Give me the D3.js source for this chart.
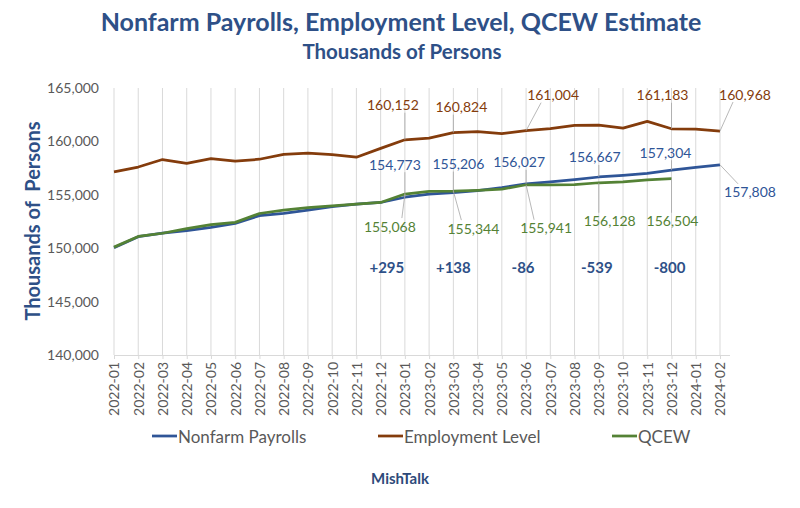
<!DOCTYPE html>
<html>
<head>
<meta charset="utf-8">
<script src="https://cdn.jsdelivr.net/npm/d3@7.9.0/dist/d3.min.js"></script>
<style>
  body { margin: 0; background: #fff; }
  svg { display: block; font-family: Lato, "Open Sans", sans-serif; }
</style>
</head>
<body>
<div id="chart"></div>
<script>
// Monthly levels, thousands of persons
const months = [
  "2022-01","2022-02","2022-03","2022-04","2022-05","2022-06","2022-07","2022-08","2022-09","2022-10","2022-11","2022-12",
  "2023-01","2023-02","2023-03","2023-04","2023-05","2023-06","2023-07","2023-08","2023-09","2023-10","2023-11","2023-12",
  "2024-01","2024-02"
];
const nonfarm = [
  150050, 151080, 151420, 151640, 151950, 152330, 153050, 153260, 153560, 153900, 154130, 154280,
  154773, 155060, 155206, 155400, 155680, 156027, 156200, 156410, 156667, 156830, 157010, 157304,
  157560, 157808
];
const employment = [
  157150, 157600, 158300, 157950, 158380, 158150, 158330, 158780, 158900, 158760, 158520, 159350,
  160152, 160300, 160824, 160920, 160730, 161004, 161200, 161500, 161520, 161240, 161880, 161183,
  161152, 160968
];
const qcew = [
  150100, 151100, 151400, 151830, 152200, 152420, 153250, 153560, 153800, 153970, 154120, 154280,
  155068, 155320, 155344, 155420, 155530, 155941, 155930, 155950, 156128, 156210, 156400, 156504
];
const yTicks = [140000, 145000, 150000, 155000, 160000, 165000];
const diffMonths = ["2023-01", "2023-03", "2023-06", "2023-09", "2023-12"];

// which points get a value label, and where the label sits relative to its point
const labelLayout = [
  { key: "employment", month: "2023-01", dx: -12, dy: -35 },
  { key: "employment", month: "2023-03", dx: 8, dy: -26 },
  { key: "employment", month: "2023-06", dx: 27, dy: -36 },
  { key: "employment", month: "2023-12", dx: -9, dy: -34 },
  { key: "employment", month: "2024-02", dx: 25, dy: -37 },
  { key: "nonfarm", month: "2023-01", dx: -10, dy: -33 },
  { key: "nonfarm", month: "2023-03", dx: 5, dy: -29 },
  { key: "nonfarm", month: "2023-06", dx: -7, dy: -22 },
  { key: "nonfarm", month: "2023-09", dx: -4, dy: -20 },
  { key: "nonfarm", month: "2023-12", dx: -6, dy: -18 },
  { key: "nonfarm", month: "2024-02", dx: 30, dy: 27 },
  { key: "qcew", month: "2023-01", dx: -15, dy: 32 },
  { key: "qcew", month: "2023-03", dx: 20, dy: 37 },
  { key: "qcew", month: "2023-06", dx: 20, dy: 43 },
  { key: "qcew", month: "2023-09", dx: 11, dy: 38 },
  { key: "qcew", month: "2023-12", dx: 1, dy: 42 }
];
// horizontal nudge of the difference annotations
const diffNudge = [-18, 0, -3, -2, -2];

const series = [
  { key: "nonfarm", name: "Nonfarm Payrolls", values: nonfarm, color: "#2F5597" },
  { key: "employment", name: "Employment Level", values: employment, color: "#843C0C" },
  { key: "qcew", name: "QCEW", values: qcew, color: "#548235" }
];
const byKey = Object.fromEntries(series.map(s => [s.key, s]));

const WIDTH = 800, HEIGHT = 508;
const plot = { left: 114, right: 720, top: 88, bottom: 355 };
const fmt = d3.format(",");

const svg = d3.select("#chart").append("svg")
  .attr("width", WIDTH)
  .attr("height", HEIGHT);

const x = d3.scalePoint().domain(months).range([plot.left, plot.right]);
const y = d3.scaleLinear().domain([140000, 165000]).range([plot.bottom, plot.top]);

// titles
svg.append("text")
  .attr("x", 401).attr("y", 31)
  .attr("text-anchor", "middle")
  .attr("font-size", 25).attr("font-weight", "bold")
  .attr("fill", "#2E5087")
  .text("Nonfarm Payrolls, Employment Level, QCEW Estimate");

svg.append("text")
  .attr("x", 402).attr("y", 59)
  .attr("text-anchor", "middle")
  .attr("font-size", 20.5).attr("font-weight", "bold")
  .attr("fill", "#2E5087")
  .text("Thousands of Persons");

svg.append("text")
  .attr("transform", "translate(40,221) rotate(-90)")
  .attr("text-anchor", "middle")
  .attr("font-size", 20).attr("font-weight", "bold")
  .attr("fill", "#2E5087")
  .style("white-space", "pre")
  .text("Thousands of  Persons");

// vertical gridlines, one per month
svg.append("g")
  .selectAll("line")
  .data(months)
  .join("line")
  .attr("x1", d => x(d)).attr("x2", d => x(d))
  .attr("y1", plot.top).attr("y2", plot.bottom)
  .attr("stroke", "#D9D9D9").attr("stroke-width", 1);

// x axis
const xAxis = svg.append("g")
  .attr("transform", `translate(0,${plot.bottom})`)
  .call(d3.axisBottom(x).tickSize(4).tickPadding(6));
xAxis.select(".domain")
  .attr("d", `M${plot.left},0.5H${plot.right + 10}`)
  .attr("stroke", "#D9D9D9");
xAxis.selectAll(".tick line").attr("stroke", "#D9D9D9");
xAxis.selectAll(".tick text")
  .attr("font-family", "Lato, sans-serif")
  .attr("font-size", 14)
  .attr("fill", "#595959")
  .attr("transform", "rotate(-90)")
  .attr("text-anchor", "end")
  .attr("x", -7).attr("y", 0)
  .attr("dy", "0.35em");

// y axis labels only
const yAxis = svg.append("g")
  .attr("transform", `translate(${plot.left},0)`)
  .call(d3.axisLeft(y).tickValues(yTicks).tickFormat(fmt).tickSize(0).tickPadding(15));
yAxis.select(".domain").remove();
yAxis.selectAll(".tick text")
  .attr("font-family", "Lato, sans-serif")
  .attr("font-size", 14)
  .attr("fill", "#595959");

// lines
const line = d3.line()
  .x((d, i) => x(months[i]))
  .y(d => y(d));

svg.append("g")
  .selectAll("path")
  .data([byKey.employment, byKey.nonfarm, byKey.qcew])
  .join("path")
  .attr("d", s => line(s.values))
  .attr("fill", "none")
  .attr("stroke", s => s.color)
  .attr("stroke-width", 2.75)
  .attr("stroke-linejoin", "round");

// value labels with leader lines
const labels = labelLayout.map(l => {
  const s = byKey[l.key];
  const v = s.values[months.indexOf(l.month)];
  const px = x(l.month), py = y(v);
  const cx = px + l.dx, cy = py + l.dy;
  // leader end: nearest point of a shrunken label box
  const ex = Math.max(cx - 12, Math.min(cx + 12, px));
  const ey = Math.max(cy - 8, Math.min(cy + 8, py));
  return { text: fmt(v), color: s.color, px, py, cx, cy, ex, ey };
});

svg.append("g")
  .selectAll("line")
  .data(labels)
  .join("line")
  .attr("x1", d => d.px).attr("y1", d => d.py)
  .attr("x2", d => d.ex).attr("y2", d => d.ey)
  .attr("stroke", "#A6A6A6").attr("stroke-width", 0.8);

svg.append("g")
  .selectAll("text")
  .data(labels)
  .join("text")
  .attr("x", d => d.cx).attr("y", d => d.cy)
  .attr("text-anchor", "middle")
  .attr("dominant-baseline", "central")
  .attr("font-size", 14)
  .attr("fill", d => d.color)
  .text(d => d.text);

// QCEW minus payrolls at each benchmark month
const diffs = diffMonths.map((m, k) => {
  const i = months.indexOf(m);
  return { month: m, diff: qcew[i] - nonfarm[i], nudge: diffNudge[k] };
});

svg.append("g")
  .selectAll("text")
  .data(diffs)
  .join("text")
  .attr("x", d => x(d.month) + d.nudge).attr("y", 267)
  .attr("text-anchor", "middle")
  .attr("dominant-baseline", "central")
  .attr("font-size", 15).attr("font-weight", "bold")
  .attr("fill", "#2E5087")
  .text(d => (d.diff > 0 ? "+" : "") + d.diff);

// legend
const legendX = [152, 378, 612];
const legend = svg.append("g")
  .selectAll("g")
  .data(series)
  .join("g")
  .attr("transform", (d, i) => `translate(${legendX[i]},436)`);
legend.append("line")
  .attr("x1", 0).attr("x2", 25)
  .attr("stroke", d => d.color).attr("stroke-width", 2.75);
legend.append("text")
  .attr("x", 26)
  .attr("dominant-baseline", "central")
  .attr("font-size", 17)
  .attr("fill", "#595959")
  .text(d => d.name);

svg.append("text")
  .attr("x", 400).attr("y", 478)
  .attr("text-anchor", "middle")
  .attr("dominant-baseline", "central")
  .attr("font-size", 15).attr("font-weight", "bold")
  .attr("fill", "#2E4A7A")
  .text("MishTalk");
</script>
</body>
</html>
